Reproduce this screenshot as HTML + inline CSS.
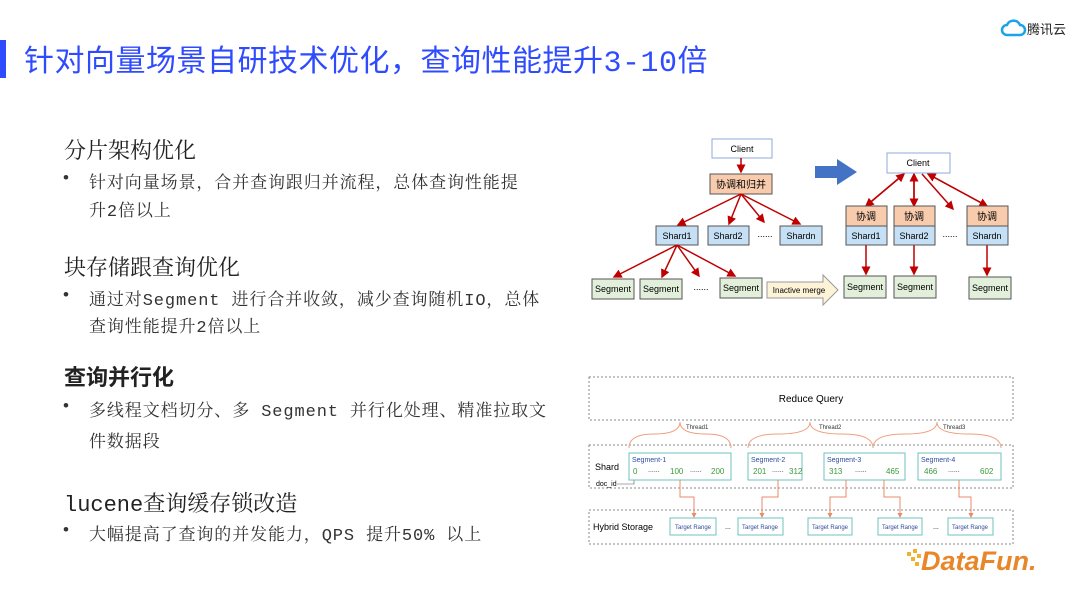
<!DOCTYPE html>
<html><head><meta charset="utf-8"><style>
body{margin:0;width:1080px;height:608px;background:#fff;position:relative;overflow:hidden;font-family:"Liberation Sans","Noto Sans CJK SC",sans-serif}
.a{position:absolute;white-space:nowrap}
.t{left:24px;top:36px;font-size:30px;color:#2f4bff;font-family:"Liberation Mono","Noto Sans CJK SC",sans-serif;letter-spacing:0.5px}
.h{left:64px;font-size:22px;color:#222;font-family:"Liberation Mono","Noto Serif CJK SC",serif}
.b{left:89px;font-size:17px;color:#333;letter-spacing:0.9px;font-family:"Liberation Mono","Noto Serif CJK SC",serif}
.d{left:63px;font-size:17px;color:#333}
</style></head><body>
<div class="a" style="left:0;top:40px;width:6px;height:38px;background:#2f4bff"></div>
<div class="a t">针对向量场景自研技术优化，查询性能提升3-10倍</div>
<svg class="a" style="left:1000px;top:18px" width="28" height="20" viewBox="0 0 28 20"><path d="M7 17a5 5 0 0 1 0-10a7 7 0 0 1 13 0a5 5 0 0 1 0 10z" fill="none" stroke="#1aa3e8" stroke-width="2.5"/></svg>
<div class="a" style="left:1027px;top:19px;font-size:13px;color:#222">腾讯云</div>

<div class="a h" style="top:134px">分片架构优化</div>
<div class="a d" style="top:168px">•</div>
<div class="a b" style="top:168px">针对向量场景，合并查询跟归并流程，总体查询性能提</div>
<div class="a b" style="top:196px">升2倍以上</div>
<div class="a h" style="top:251px">块存储跟查询优化</div>
<div class="a d" style="top:285px">•</div>
<div class="a b" style="top:285px">通过对Segment 进行合并收敛，减少查询随机IO，总体</div>
<div class="a b" style="top:312px">查询性能提升2倍以上</div>
<div class="a h" style="top:360px;font-weight:bold;font-family:'Noto Sans CJK SC',sans-serif">查询并行化</div>
<div class="a d" style="top:396px">•</div>
<div class="a b" style="top:396px">多线程文档切分、多 Segment 并行化处理、精准拉取文</div>
<div class="a b" style="top:427px">件数据段</div>
<div class="a h" style="top:487px">lucene查询缓存锁改造</div>
<div class="a d" style="top:520px">•</div>
<div class="a b" style="top:520px">大幅提高了查询的并发能力，QPS 提升50% 以上</div>

<svg class="a" style="left:0;top:0" width="1080" height="608" font-family="Liberation Sans,Noto Sans CJK SC,sans-serif">
<defs><marker id="r" markerWidth="6" markerHeight="6" refX="5" refY="3" orient="auto"><path d="M0 0L6 3L0 6z" fill="#c00000"/></marker>
<marker id="o" markerWidth="5" markerHeight="5" refX="4" refY="2.5" orient="auto"><path d="M0 0L5 2.5L0 5z" fill="#e8896a"/></marker></defs>
<g font-size="9" text-anchor="middle" stroke-width="1">
<rect x="712" y="139" width="60" height="19" fill="#fff" stroke="#8ea9db"/><text x="742" y="152">Client</text>
<rect x="710" y="174" width="62" height="20" fill="#f8cbad" stroke="#555"/><text x="741" y="188" font-size="10">协调和归并</text>
<g fill="#c5e0f5" stroke="#555"><rect x="656" y="226" width="42" height="19"/><rect x="708" y="226" width="41" height="19"/><rect x="780" y="226" width="42" height="19"/></g>
<text x="677" y="239">Shard1</text><text x="728" y="239">Shard2</text><text x="801" y="239">Shardn</text><text x="765" y="237">......</text>
<g fill="#e2efda" stroke="#555"><rect x="592" y="279" width="42" height="20"/><rect x="640" y="279" width="42" height="20"/><rect x="720" y="278" width="42" height="20"/></g>
<text x="613" y="292">Segment</text><text x="661" y="292">Segment</text><text x="741" y="291">Segment</text><text x="701" y="290">......</text>
<g stroke="#c00000" stroke-width="1.5" marker-end="url(#r)" fill="none">
<path d="M741 158V172"/><path d="M741 194L678 225"/><path d="M741 194L729 224"/><path d="M741 194L764 222"/><path d="M741 194L800 224"/>
<path d="M677 245L614 277"/><path d="M677 245L662 277"/><path d="M677 245L699 276"/><path d="M677 245L735 276"/>
<path d="M866 206L904 174"/><path d="M904 174L866 206"/><path d="M914 206V174"/><path d="M914 174V206"/><path d="M922 174L953 209"/><path d="M928 174L987 206"/><path d="M987 206L928 174"/>
<path d="M866 245V274"/><path d="M914 245V274"/><path d="M987 245V275"/></g>
<path d="M815 166h22v-7l20 13l-20 13v-7h-22z" fill="#4472c4"/>
<rect x="887" y="153" width="63" height="20" fill="#fff" stroke="#8ea9db"/><text x="918" y="166">Client</text>
<g fill="#f8cbad" stroke="#555"><rect x="846" y="206" width="41" height="20"/><rect x="894" y="206" width="41" height="20"/><rect x="967" y="206" width="41" height="20"/></g>
<text x="866" y="220" font-size="10">协调</text><text x="914" y="220" font-size="10">协调</text><text x="987" y="220" font-size="10">协调</text>
<g fill="#c5e0f5" stroke="#555"><rect x="846" y="226" width="41" height="19"/><rect x="894" y="226" width="41" height="19"/><rect x="967" y="226" width="41" height="19"/></g>
<text x="866" y="239">Shard1</text><text x="914" y="239">Shard2</text><text x="987" y="239">Shardn</text><text x="950" y="237">......</text>
<g fill="#e2efda" stroke="#555"><rect x="844" y="276" width="42" height="22"/><rect x="894" y="276" width="42" height="22"/><rect x="969" y="277" width="42" height="22"/></g>
<text x="865" y="290">Segment</text><text x="915" y="290">Segment</text><text x="990" y="291">Segment</text>
<path d="M767 282h56v-7l15 15l-15 15v-7h-56z" fill="#fdf3d6" stroke="#999"/><text x="799" y="293" font-size="8">Inactive merge</text>
</g>
<g fill="none" stroke="#888" stroke-dasharray="2,2"><rect x="589" y="377" width="424" height="43"/><rect x="589" y="445" width="424" height="43"/><rect x="589" y="510" width="424" height="34"/></g>
<text x="811" y="402" font-size="10" text-anchor="middle">Reduce Query</text>
<g fill="none" stroke="#f0a080"><path d="M629 448q0-14 25-14q26 0 26-12q0 12 26 12q25 0 25 14"/><path d="M748 448q0-14 30-14q32 0 32-12q0 12 32 12q31 0 31 14"/><path d="M873 448q0-14 32-14q32 0 32-12q0 12 32 12q32 0 32 14"/></g>
<g font-size="6" fill="#333"><text x="686" y="429">Thread1</text><text x="819" y="429">Thread2</text><text x="943" y="429">Thread3</text></g>
<text x="595" y="470" font-size="9">Shard</text><text x="596" y="486" font-size="7">doc_id</text>
<path d="M617 484h17v-8" stroke="#555" fill="none" stroke-width=".6"/>
<g fill="#fff" stroke="#6cc3bd"><rect x="629" y="453" width="102" height="27"/><rect x="748" y="453" width="54" height="27"/><rect x="824" y="453" width="81" height="27"/><rect x="918" y="453" width="83" height="27"/></g>
<g font-size="7" fill="#2f4b9f"><text x="632" y="462">Segment-1</text><text x="751" y="462">Segment-2</text><text x="827" y="462">Segment-3</text><text x="921" y="462">Segment-4</text></g>
<g font-size="8" fill="#3a9a3a"><text x="633" y="474">0</text><text x="670" y="474">100</text><text x="711" y="474">200</text><text x="753" y="474">201</text><text x="789" y="474">312</text><text x="829" y="474">313</text><text x="886" y="474">465</text><text x="924" y="474">466</text><text x="980" y="474">602</text></g>
<g font-size="7" fill="#333"><text x="648" y="472">......</text><text x="690" y="472">......</text><text x="772" y="472">......</text><text x="855" y="472">......</text><text x="948" y="472">......</text></g>
<g fill="none" stroke="#e8896a" marker-end="url(#o)"><path d="M680 480v17h14v20"/><path d="M778 480v17h-16v20"/><path d="M846 480v17h-16v20"/><path d="M884 480v17h16v20"/><path d="M959 480v17h12v20"/></g>
<text x="593" y="530" font-size="9">Hybrid Storage</text>
<g fill="#fff" stroke="#6cc3bd"><rect x="670" y="518" width="46" height="17"/><rect x="738" y="518" width="45" height="17"/><rect x="808" y="518" width="44" height="17"/><rect x="878" y="518" width="44" height="17"/><rect x="948" y="518" width="45" height="17"/></g>
<g font-size="6" fill="#2f4b9f" text-anchor="middle"><text x="693" y="529">Target Range</text><text x="760" y="529">Target Range</text><text x="830" y="529">Target Range</text><text x="900" y="529">Target Range</text><text x="970" y="529">Target Range</text></g>
<text x="725" y="529" font-size="7">...</text><text x="933" y="529" font-size="7">...</text>
<g fill="#f0b030"><rect x="907" y="552" width="4" height="4"/><rect x="913" y="549" width="4" height="4"/><rect x="911" y="557" width="4" height="4"/><rect x="917" y="554" width="4" height="4"/><rect x="915" y="562" width="4" height="4"/></g>
<text x="921" y="570" font-size="27" font-weight="bold" font-style="italic" fill="#e8862a">DataFun.</text>
</svg>
</body></html>
